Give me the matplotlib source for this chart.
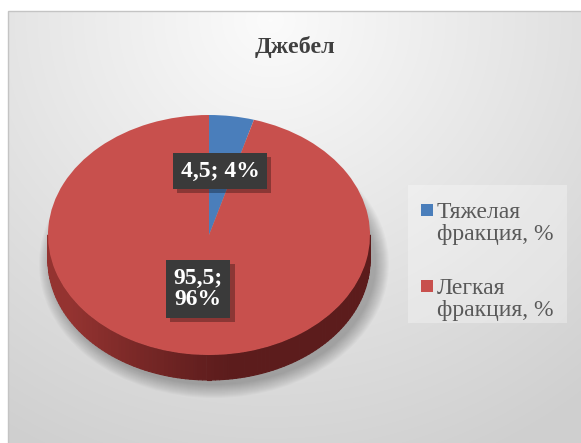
import numpy as np
import matplotlib
matplotlib.use("Agg")
import matplotlib.pyplot as plt
import matplotlib.patheffects as pe
from matplotlib.patches import Rectangle, Ellipse
from matplotlib.collections import PolyCollection
from matplotlib.transforms import Affine2D

# Fractions for the Джебел sample
title = "Джебел"
fractions = ["Тяжелая\nфракция, %", "Легкая\nфракция, %"]
values = [4.5, 95.5]
colors = ["#4a7ebb", "#c8504d"]

W, H = 581, 443
SERIF = ["Liberation Serif", "DejaVu Serif"]

fig = plt.figure(figsize=(W / 100, H / 100), dpi=100)
ax = fig.add_axes([0, 0, 1, 1])

# chart area background: soft radial gradient, white near the title
gx, gy = np.meshgrid(np.arange(W), np.arange(H))
dist = np.hypot((gx - 270) / 1.0, (gy - 20) / 0.95)
shade = 0.985 - 0.17 * np.clip(dist / 500, 0, 1)
ax.imshow(np.dstack([shade] * 3)[11:, 8:], extent=(8, W, 0, H - 11),
          origin="upper", interpolation="bilinear", zorder=0)
ax.add_patch(Rectangle((8, -5), W, H - 11 + 5, fill=False,
                       edgecolor="#c4c4c4", linewidth=1.0, zorder=1))

# pie geometry (pixels, y measured upward)
cx, cy = 209, H - 235
a, b, depth = 161, 120, 25

# soft shadow under the disc
for k in range(14):
    ax.add_patch(Ellipse((cx + 5, cy - depth - 4), 2 * (a + 14 - k), 2 * (b + 14 - k),
                         facecolor="black", edgecolor="none", alpha=0.018, zorder=2))

# front side of the disc, shaded along the rim
t = np.linspace(np.pi, 2 * np.pi, 120)
side_polys, side_cols = [], []
dark = np.array([0.36, 0.11, 0.11])
light = np.array([0.58, 0.20, 0.19])
for t0, t1 in zip(t[:-1], t[1:]):
    xs = [cx + a * np.cos(t0), cx + a * np.cos(t1)]
    ys = [cy + b * np.sin(t0), cy + b * np.sin(t1)]
    side_polys.append([(xs[0], ys[0]), (xs[1], ys[1]),
                       (xs[1], ys[1] - depth), (xs[0], ys[0] - depth)])
    f = np.clip(-np.cos(0.5 * (t0 + t1)) + 0.15, 0, 1) ** 1.2
    side_cols.append(dark + (light - dark) * f)
ax.add_collection(PolyCollection(side_polys, facecolors=side_cols,
                                 edgecolors=side_cols, linewidths=0.8, zorder=3))

# top face of the disc
wedges, _ = ax.pie(values, colors=colors, startangle=90, counterclock=False,
                   wedgeprops=dict(linewidth=0))
squash = Affine2D().scale(a, b).translate(cx, cy) + ax.transData
for w in wedges:
    w.set_transform(squash)
    w.set_zorder(4)

ax.set_aspect("auto")
ax.set_xlim(0, W)
ax.set_ylim(0, H)
ax.axis("off")

# data labels: "value; percent"
total = sum(values)
label_pos = [(220, H - 171), (198, H - 289)]
box_shadow = [pe.SimplePatchShadow(offset=(3, -3), shadow_rgbFace="black", alpha=0.3),
              pe.Normal()]
for v, (lx, ly) in zip(values, label_pos):
    val = f"{v:.1f}".replace(".", ",")
    pct = round(100 * v / total)
    txt = f"{val}; {pct}%" if v < 10 else f"{val};\n{pct}%"
    lbl = ax.text(lx, ly, txt, ha="center", va="center", fontsize=17,
                  fontweight="bold", family=SERIF, color="white", linespacing=1.05,
                  zorder=6, bbox=dict(boxstyle="square,pad=0.33", facecolor="#3a3a3a",
                                      edgecolor="none"))
    lbl.get_bbox_patch().set_path_effects(box_shadow)

ax.text(295, H - 47, title, ha="center", va="center", fontsize=17.5,
        fontweight="bold", family=SERIF, color="#3f3f3f", zorder=6)

# legend
ax.add_patch(Rectangle((408, H - 323), 159, 138, facecolor="white",
                       edgecolor="none", alpha=0.3, zorder=5))
for i, (name, c) in enumerate(zip(fractions, colors)):
    top = H - (216 + 76 * i)
    ax.add_patch(Rectangle((421, top), 12, 12, facecolor=c,
                           edgecolor="none", zorder=6))
    # multi-line text: baseline refers to the last line
    ax.text(437, top - 24, name, ha="left", va="baseline", fontsize=17,
            family=SERIF, color="#595959", linespacing=1.05, zorder=6)

fig.savefig("out.png", dpi=100)
